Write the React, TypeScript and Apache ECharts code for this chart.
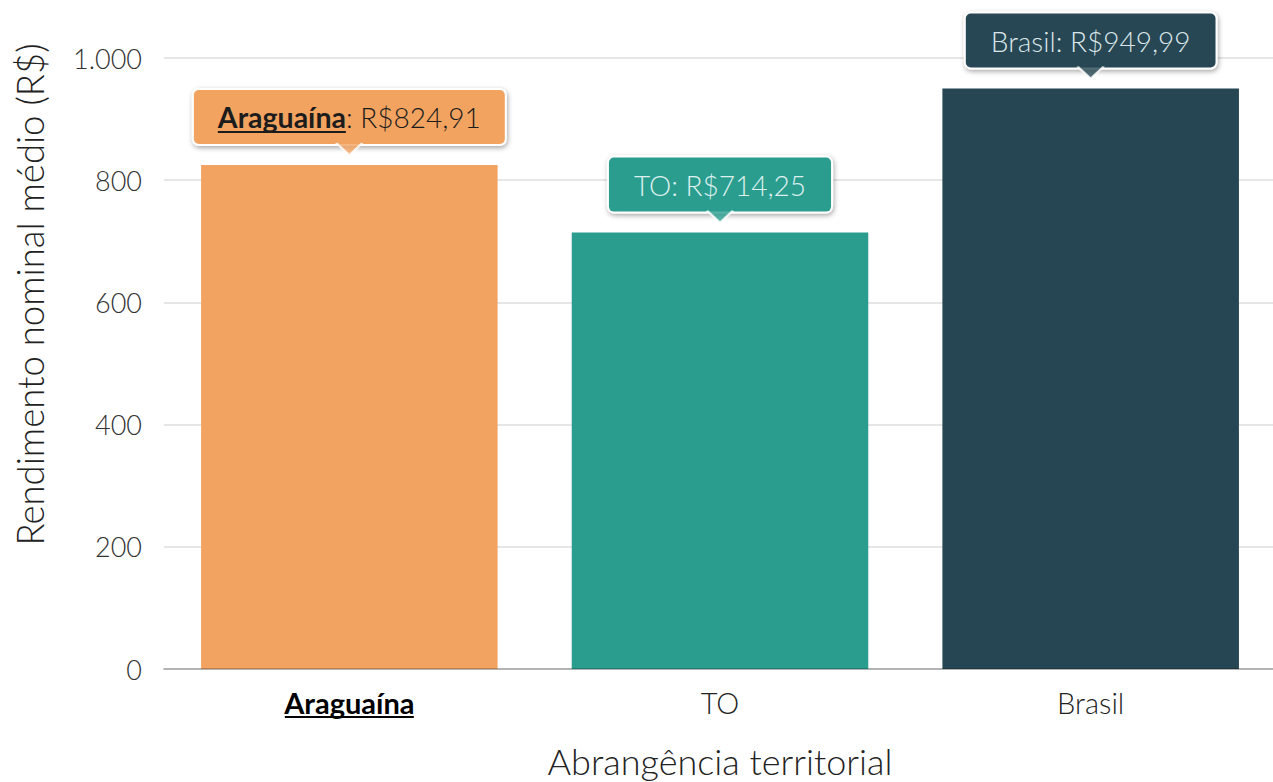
import React, { useEffect, useRef } from "react";
import * as echarts from "echarts";

const categories = ["Araguaína", "TO", "Brasil"];
const values = [824.91, 714.25, 949.99];
const barColors = ["#F2A361", "#2A9D8F", "#264653"];
const calloutTextColors = ["#1c1c1c", "#def0ed", "#dce6e9"];
const yMin = 0;
const yMax = 1000;
const yInterval = 200;
const highlighted = "Araguaína";

const FONT = "Lato";

function fmtMoney(v: number): string {
  return "R$" + v.toFixed(2).replace(".", ",");
}
function fmtThousands(v: number): string {
  return String(Math.round(v)).replace(/\B(?=(\d{3})+(?!\d))/g, ".");
}

export default function App() {
  const ref = useRef<HTMLDivElement>(null);
  useEffect(() => {
    if (!ref.current) return;
    const chart = echarts.init(ref.current, null, { renderer: "svg" });

    const barData = values.map((v, i) => {
      const isHi = categories[i] === highlighted;
      return {
        value: v,
        itemStyle: { color: barColors[i] },
        label: {
          show: true,
          position: "top",
          distance: 21,
          backgroundColor: barColors[i],
          borderColor: "#ffffff",
          borderWidth: 2,
          borderRadius: 5,
          shadowColor: "rgba(0,0,0,0.35)",
          shadowBlur: 5,
          shadowOffsetX: 1,
          shadowOffsetY: 2,
          padding: isHi ? [13, 24, 11, 24] : [12, 25, 12, 25],
          formatter: isHi
            ? "{b|" + categories[i] + "}{n|: " + fmtMoney(v) + "}\n{u|}"
            : "{n|" + categories[i] + ": " + fmtMoney(v) + "}",
          rich: {
            b: {
              fontFamily: FONT,
              fontWeight: 700,
              fontSize: 28.5,
              lineHeight: 28,
              color: calloutTextColors[i],
            },
            n: {
              fontFamily: FONT,
              fontWeight: 300,
              fontSize: 28,
              lineHeight: isHi ? 28 : 30,
              color: calloutTextColors[i],
            },
            u: {
              width: 128,
              height: 2,
              lineHeight: 2,
              align: "left",
              backgroundColor: calloutTextColors[i],
            },
          },
        },
      };
    });

    const arrowData = values.map((v, i) => ({
      value: v,
      itemStyle: { color: barColors[i] },
    }));

    chart.setOption({
      animation: false,
      textStyle: { fontFamily: FONT },
      grid: {
        left: 164,
        top: 58,
        width: 1112,
        height: 611,
        containLabel: false,
        outerBoundsMode: "none",
      },
      xAxis: {
        type: "category",
        data: categories,
        z: 3,
        name: "Abrangência territorial",
        nameLocation: "middle",
        nameGap: 74,
        nameTextStyle: { fontFamily: FONT, fontWeight: 300, fontSize: 36, color: "#222" },
        axisLine: { lineStyle: { color: "rgba(0,0,0,0.22)", width: 2 } },
        axisTick: { show: false },
        axisLabel: {
          margin: 19,
          formatter: (v: string) =>
            v === highlighted ? "{b|" + v + "}\n{u|}" : "{n|" + v + "}",
          rich: {
            b: { fontFamily: FONT, fontWeight: 700, fontSize: 29, lineHeight: 28, color: "#000" },
            n: { fontFamily: FONT, fontWeight: 300, fontSize: 29, lineHeight: 28, color: "#222" },
            u: { width: 129, height: 2, lineHeight: 2, backgroundColor: "#000" },
          },
        },
      },
      yAxis: {
        type: "value",
        min: yMin,
        max: yMax,
        interval: yInterval,
        name: "Rendimento nominal médio (R$)",
        nameLocation: "middle",
        nameRotate: 90,
        nameGap: 116,
        nameTextStyle: {
          fontFamily: FONT,
          fontWeight: 300,
          fontSize: 36.5,
          color: "#222",
          padding: [0, 0, 0, 138],
        },
        axisLine: { show: false },
        axisTick: { show: false },
        axisLabel: {
          margin: 22,
          fontFamily: FONT,
          fontWeight: 300,
          fontSize: 27,
          color: "#333",
          formatter: (v: number) => fmtThousands(v),
        },
        splitLine: { lineStyle: { color: "#dedede", width: 1.5 } },
      },
      series: [
        {
          type: "bar",
          data: barData,
          barCategoryGap: "20%",
          silent: true,
          z: 2,
        },
        {
          type: "scatter",
          data: arrowData,
          symbol: "path://M0,0L13,12L26,0",
          symbolSize: [26, 12],
          symbolOffset: [0, -16],
          itemStyle: { borderColor: "#ffffff", borderWidth: 2 },
          silent: true,
          z: 10,
        },
      ],
    });
    return () => chart.dispose();
  }, []);
  return (
    <div
      style={{
        position: "absolute",
        left: 0,
        top: 0,
        width: 1273,
        height: 782,
        overflow: "hidden",
      }}
    >
      <div ref={ref} style={{ width: 1280, height: 782 }} />
    </div>
  );
}
